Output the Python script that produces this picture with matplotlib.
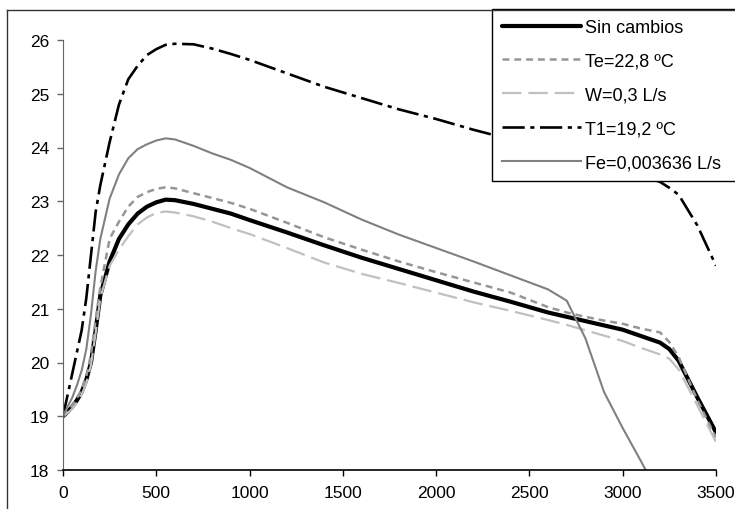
import matplotlib
matplotlib.use("Agg")
import matplotlib.pyplot as plt
from matplotlib.lines import Line2D

plt.rcParams['font.family'] = ['Liberation Sans', 'DejaVu Sans']
plt.rcParams['lines.scale_dashes'] = False

# ---- data ----
t = [0, 25, 50, 75, 100, 125, 150, 175, 200, 250, 300, 350, 400, 450, 500, 550, 600,
     700, 800, 900, 1000, 1200, 1400, 1600, 1800, 2000, 2200, 2400, 2600, 2700, 2800,
     2900, 3000, 3100, 3200, 3250, 3300, 3400, 3500]

sin_cambios = [19.0, 19.08, 19.18, 19.3, 19.45, 19.68, 20.0, 20.6, 21.25, 21.88, 22.3, 22.57,
               22.77, 22.9, 22.98, 23.03, 23.02, 22.95, 22.86, 22.77, 22.65, 22.42, 22.18,
               21.95, 21.74, 21.53, 21.32, 21.13, 20.93, 20.85, 20.77, 20.69, 20.61, 20.49,
               20.37, 20.25, 20.03, 19.35, 18.7]

te = [19.0, 19.1, 19.2, 19.33, 19.5, 19.75, 20.15, 20.8, 21.4, 22.3, 22.62, 22.9, 23.08,
      23.17, 23.23, 23.26, 23.24, 23.15, 23.06, 22.97, 22.86, 22.6, 22.33, 22.1, 21.88,
      21.68, 21.49, 21.3, 21.03, 20.93, 20.85, 20.78, 20.72, 20.63, 20.56, 20.38, 20.1,
      19.3, 18.6]

w = [19.0, 19.06, 19.14, 19.25, 19.4, 19.62, 19.95, 20.55, 21.2, 21.8, 22.1, 22.35, 22.57,
     22.7, 22.78, 22.81, 22.79, 22.72, 22.62, 22.5, 22.39, 22.13, 21.86, 21.65, 21.48,
     21.3, 21.12, 20.96, 20.79, 20.7, 20.6, 20.5, 20.4, 20.27, 20.15, 20.07, 19.87, 19.2,
     18.52]

t1 = [19.0, 19.4, 19.8, 20.2, 20.6, 21.2, 22.0, 22.8, 23.3, 24.1, 24.8, 25.27, 25.52,
      25.72, 25.83, 25.91, 25.93, 25.92, 25.84, 25.74, 25.63, 25.38, 25.13, 24.92, 24.71,
      24.53, 24.33, 24.15, 23.97, 23.88, 23.78, 23.68, 23.58, 23.48, 23.36, 23.25, 23.12,
      22.55, 21.8]

fe_t = t[:35]
fe = [19.0, 19.18, 19.35, 19.58, 19.85, 20.25, 20.9, 21.7, 22.3, 23.05, 23.5, 23.8, 23.97,
      24.06, 24.13, 24.17, 24.15, 24.03, 23.89, 23.77, 23.62, 23.26, 22.98, 22.66, 22.38,
      22.13, 21.88, 21.62, 21.36, 21.15, 20.45, 19.45, 18.78, 18.15, 17.5]

labels = ["Sin cambios", "Te=22,8 ºC", "W=0,3 L/s", "T1=19,2 ºC", "Fe=0,003636 L/s"]
x_ticks = [0, 500, 1000, 1500, 2000, 2500, 3000, 3500]
y_ticks = [18, 19, 20, 21, 22, 23, 24, 25, 26]

# ---- figure ----
fig = plt.figure(figsize=(7.35, 5.1), dpi=100)
ax = fig.add_axes([63 / 735, 39 / 510, 653 / 735, 430 / 510])

ax.plot(t, sin_cambios, color='black', lw=3.0, label=labels[0], solid_capstyle='round')
ax.plot(t, te, color='#969696', lw=1.8, dashes=(5, 3.5), label=labels[1])
ax.plot(t, w, color='#c0c0c0', lw=1.6, dashes=(14, 5), label=labels[2])
ax.plot(t, t1, color='black', lw=1.9, dashes=(16, 4, 3, 4), label=labels[3])
ax.plot(fe_t, fe, color='#808080', lw=1.5, label=labels[4])

ax.set_xlim(0, 3500)
ax.set_ylim(18, 26)
ax.set_xticks(x_ticks)
ax.set_yticks(y_ticks)
ax.set_xticklabels([str(v) for v in x_ticks])
ax.set_yticklabels([str(v) for v in y_ticks])
ax.tick_params(axis='x', direction='out', length=4, width=1, pad=7, labelsize=12.5, colors='black')
ax.tick_params(axis='y', direction='out', length=4, width=1, pad=6, labelsize=12.5,
               color='#666666', labelcolor='black')
ax.spines['top'].set_visible(False)
ax.spines['right'].set_visible(False)
ax.spines['left'].set_color('#666666')
ax.spines['bottom'].set_color('black')
ax.spines['bottom'].set_linewidth(1.2)

leg_top = 1 - 10 / 510
leg = ax.legend(loc='upper left',
                bbox_to_anchor=(492 / 735, leg_top - 0.5, (750 - 492) / 735, 0.5),
                bbox_transform=fig.transFigure, mode='expand', fontsize=13, frameon=True,
                fancybox=False, framealpha=1, edgecolor='black', borderpad=0.55,
                handlelength=4.4, handletextpad=0.2, labelspacing=0.93,
                borderaxespad=0)
leg.get_frame().set_linewidth(1.0)

# outer chart frame
fig.add_artist(Line2D([7.5 / 735, 7.5 / 735], [0, 1 - 10.5 / 510], transform=fig.transFigure,
                      color='#333333', lw=1))
fig.add_artist(Line2D([7.5 / 735, 1], [1 - 10.5 / 510, 1 - 10.5 / 510], transform=fig.transFigure,
                      color='#333333', lw=1))

fig.savefig("out.png", dpi=100)
